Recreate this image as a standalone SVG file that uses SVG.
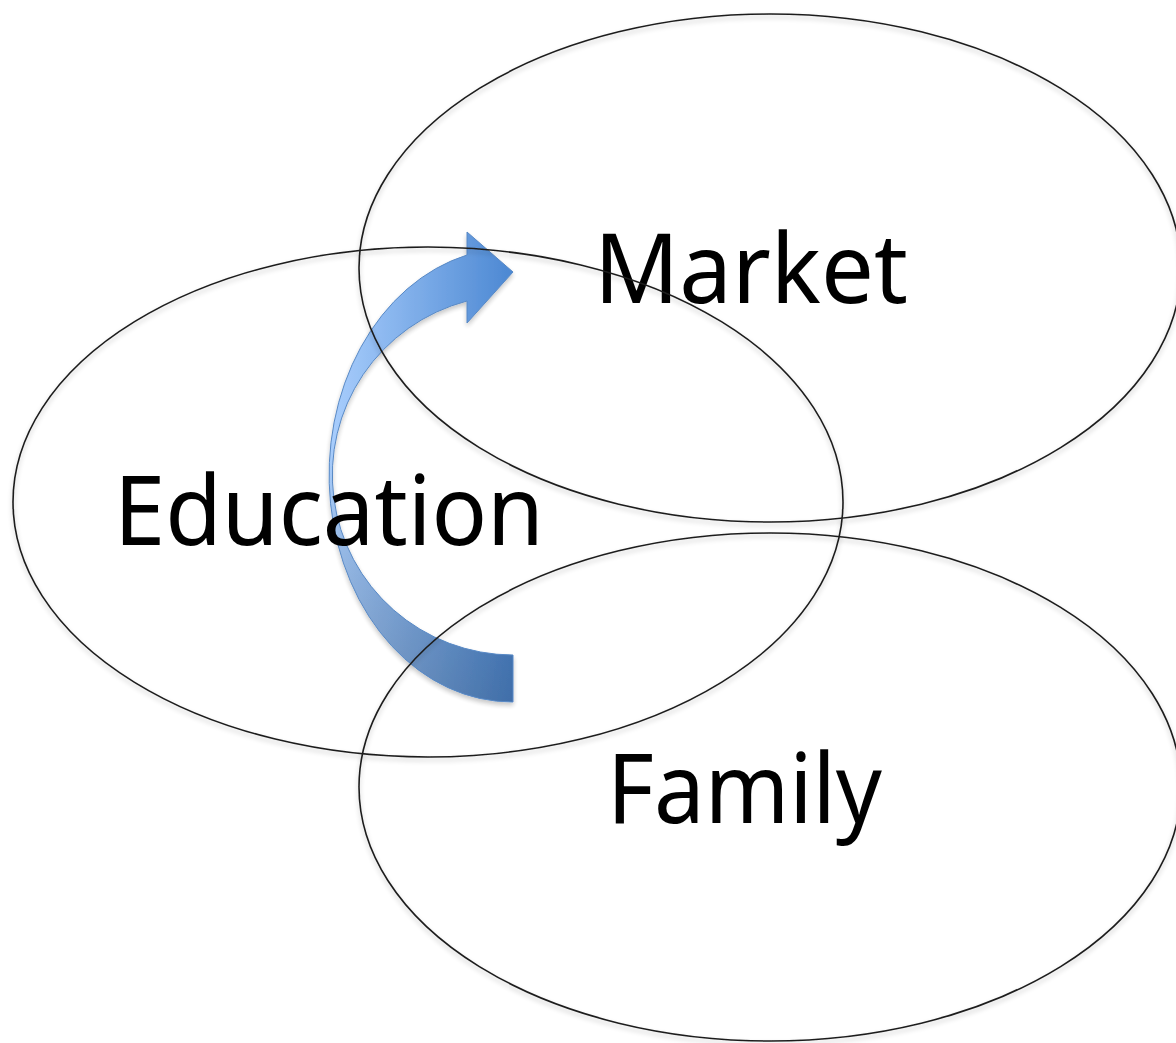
<svg xmlns="http://www.w3.org/2000/svg" width="1176" height="1043" viewBox="0 0 1176 1043">
  <defs>
    <style>
      .ring { fill: none; stroke: #1e1e1e; stroke-width: 1.6; }
      .label { font-family: "Noto Sans", "Open Sans", sans-serif; font-size: 97px; fill: #000; }
    </style>
    <filter id="soft" x="-5%" y="-5%" width="110%" height="115%">
      <feGaussianBlur in="SourceAlpha" stdDeviation="2.5"/>
      <feOffset dx="0" dy="3" result="b"/>
      <feComponentTransfer><feFuncA type="linear" slope="0.25"/></feComponentTransfer>
      <feMerge><feMergeNode/><feMergeNode in="SourceGraphic"/></feMerge>
    </filter>
    <linearGradient id="arrowH" gradientUnits="userSpaceOnUse" x1="330" y1="0" x2="513" y2="0">
      <stop offset="0" stop-color="#a2cafd"/>
      <stop offset="1" stop-color="#3d7ecf"/>
    </linearGradient>
    <linearGradient id="arrowV" gradientUnits="userSpaceOnUse" x1="0" y1="440" x2="0" y2="702">
      <stop offset="0" stop-color="#000" stop-opacity="0"/>
      <stop offset="1" stop-color="#000" stop-opacity="0.22"/>
    </linearGradient>
  </defs>

  <rect width="1176" height="1043" fill="#fff"/>

  <g id="connectors">
    <g id="arrow-education-market" filter="url(#soft)" opacity="0.92">
      <path id="arrow-shape" d="M513,702 L513,655 A181,180 0 0 1 467,301 L467,323 L513,272 L467,232 L467,255 A183,227 0 0 0 513,702 Z" fill="url(#arrowH)"/>
      <path d="M513,702 L513,655 A181,180 0 0 1 467,301 L467,323 L513,272 L467,232 L467,255 A183,227 0 0 0 513,702 Z" fill="url(#arrowV)" stroke="#4a7fc0" stroke-width="1"/>
    </g>
  </g>

  <g id="node-market">
    <ellipse class="ring" cx="770" cy="268" rx="411" ry="254" filter="url(#soft)"/>
    <text class="label" x="594" y="303" textLength="314" lengthAdjust="spacingAndGlyphs">Market</text>
  </g>

  <g id="node-education">
    <ellipse class="ring" cx="428" cy="502" rx="415" ry="255" filter="url(#soft)"/>
    <text class="label" x="114" y="545" textLength="430" lengthAdjust="spacingAndGlyphs">Education</text>
  </g>

  <g id="node-family">
    <ellipse class="ring" cx="770" cy="787" rx="411" ry="254" filter="url(#soft)"/>
    <text class="label" x="607" y="823" textLength="275" lengthAdjust="spacingAndGlyphs">Family</text>
  </g>
</svg>
